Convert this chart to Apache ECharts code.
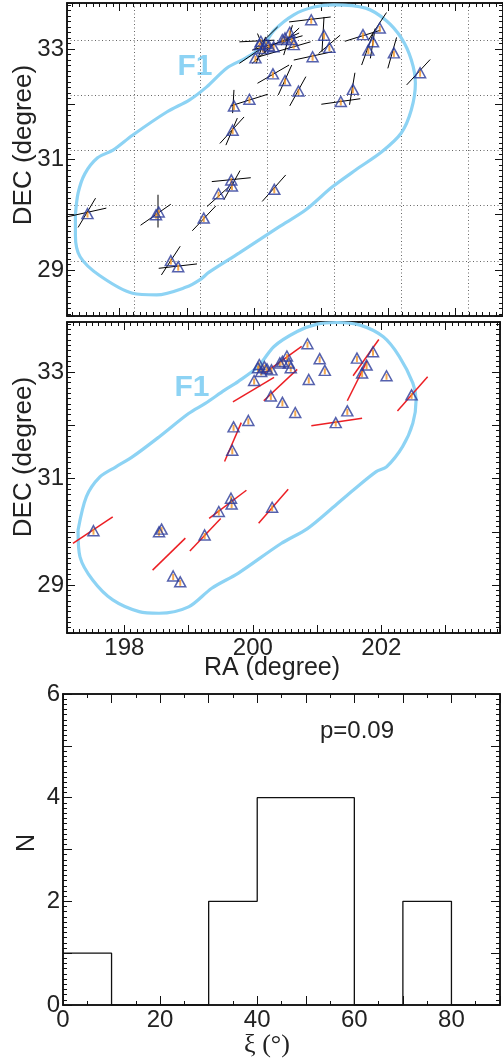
<!DOCTYPE html>
<html>
<head>
<meta charset="utf-8">
<title>F1 polarization map</title>
<script src="https://cdn.jsdelivr.net/npm/echarts@6.0.0/dist/echarts.min.js"></script>
<style>
  html, body { margin: 0; padding: 0; background: #fff; }
  #chart { width: 503px; height: 1060px; }
</style>
</head>
<body>
<div id="chart"></div>
<script>
// stars (RA, DEC)
const stars = [
  [197.52, 30.02], [198.54, 30.00], [198.58, 30.05], [198.76, 29.17], [198.87, 29.06],
  [199.25, 29.94], [199.47, 30.38], [199.66, 30.63], [199.67, 30.52], [200.30, 30.46],
  [199.68, 31.53], [199.70, 31.97], [199.93, 32.09], [200.02, 32.84], [200.08, 33.08],
  [200.10, 33.14], [200.18, 33.10], [200.13, 33.01], [200.29, 33.04], [200.42, 33.17],
  [200.46, 33.20], [200.53, 33.30], [200.56, 33.17], [200.59, 33.08], [200.22, 33.06],
  [200.85, 33.53], [201.04, 33.25], [201.12, 33.03], [200.87, 32.86], [200.28, 32.55],
  [200.46, 32.43], [200.66, 32.24], [201.29, 32.05], [201.47, 32.27], [201.62, 33.26],
  [201.87, 33.38], [201.77, 33.13], [201.70, 32.98], [202.08, 32.93], [202.47, 32.57]
]

// black vectors, top panel: [ra1, dec1, ra2, dec2]
const starVectors = [
  [197.21, 29.96, 197.80, 30.12], [197.38, 29.77, 197.64, 30.30],
  [198.31, 29.81, 198.76, 30.19], [198.62, 28.91, 198.90, 29.43],
  [198.58, 29.03, 199.15, 29.11], [199.08, 29.71, 199.43, 30.16],
  [199.30, 30.15, 199.63, 30.51], [199.37, 30.60, 199.95, 30.67],
  [199.55, 30.27, 199.79, 30.80], [200.12, 30.24, 200.47, 30.72],
  [199.70, 32.26, 199.68, 31.84], [199.65, 31.97, 200.20, 32.18],
  [199.49, 31.29, 199.85, 31.77], [199.58, 31.26, 199.75, 31.75],
  [200.52, 33.49, 201.14, 33.58], [201.04, 33.58, 201.01, 32.95],
  [200.96, 32.92, 201.28, 33.25], [200.59, 32.80, 201.16, 32.95],
  [200.05, 32.38, 200.52, 32.71], [200.36, 32.17, 200.56, 32.71],
  [200.53, 31.97, 200.77, 32.50], [201.42, 31.99, 201.50, 32.57],
  [201.00, 32.00, 201.58, 32.10], [201.35, 33.14, 201.88, 33.34],
  [201.70, 33.16, 201.97, 33.66], [201.73, 32.83, 201.80, 33.37],
  [201.60, 32.71, 201.78, 33.31], [201.99, 32.65, 202.12, 33.21],
  [202.27, 32.35, 202.62, 32.81], [199.78, 33.13, 200.30, 33.16],
  [199.97, 32.98, 200.72, 33.24], [200.07, 32.86, 200.84, 33.13],
  [200.00, 32.98, 200.35, 33.40], [200.44, 32.89, 200.57, 33.43],
  [200.03, 32.74, 200.17, 33.22], [199.97, 32.74, 200.30, 33.10],
  [200.12, 32.98, 200.67, 33.29], [200.40, 33.07, 200.67, 33.38],
  [200.05, 33.28, 200.17, 32.92], [199.78, 32.74, 200.07, 32.98]
]

// grey error bar
const greyBars = [
  [198.57, 29.77, 198.57, 30.36]
]

// red vectors, middle panel
const redVectors = [
  [197.20, 29.78, 197.82, 30.28], [198.44, 29.28, 198.95, 29.88],
  [199.02, 29.64, 199.50, 30.25], [199.32, 30.25, 199.90, 30.78],
  [199.56, 31.32, 199.82, 32.05], [199.69, 32.44, 200.33, 32.90],
  [200.17, 32.46, 200.69, 33.05], [200.18, 32.98, 200.76, 33.48],
  [200.91, 31.99, 201.70, 32.13], [201.56, 32.93, 201.96, 33.61],
  [201.47, 32.46, 201.78, 33.21], [202.25, 32.27, 202.72, 32.91],
  [200.09, 30.16, 200.55, 30.80]
]

// F1 outline as drawn in each panel
const outlineTop = [
  [197.34, 30.00], [197.38, 30.39], [197.48, 30.74], [197.67, 31.03], [197.90, 31.17],
  [198.19, 31.44], [198.70, 31.86], [199.04, 32.08], [199.29, 32.31], [199.60, 32.66],
  [199.88, 32.84], [200.12, 33.04], [200.30, 33.34], [200.59, 33.62], [200.89, 33.76],
  [201.19, 33.80], [201.66, 33.74], [201.96, 33.52], [202.19, 33.20], [202.34, 32.80],
  [202.40, 32.38], [202.34, 31.90], [202.19, 31.48], [201.90, 31.14], [201.51, 30.81],
  [201.16, 30.50], [200.77, 30.09], [200.37, 29.78], [199.78, 29.31], [199.33, 28.96],
  [199.19, 28.82], [198.99, 28.69], [198.55, 28.55], [198.19, 28.58], [197.70, 28.90],
  [197.41, 29.24], [197.34, 29.63], [197.34, 30.00]
]
const outlineMid = [
  [197.28, 30.03], [197.41, 30.66], [197.62, 31.03], [197.87, 31.22], [198.13, 31.41],
  [198.54, 31.78], [199.00, 32.22], [199.26, 32.41], [199.56, 32.66], [199.77, 32.82],
  [200.08, 33.10], [200.33, 33.48], [200.69, 33.76], [201.00, 33.90], [201.31, 33.93],
  [201.67, 33.88], [202.03, 33.66], [202.28, 33.29], [202.49, 32.79], [202.54, 32.47],
  [202.49, 32.04], [202.33, 31.60], [202.08, 31.22], [201.92, 31.13], [201.56, 30.78],
  [201.26, 30.47], [200.85, 30.06], [200.44, 29.78], [199.77, 29.22], [199.36, 28.94],
  [199.00, 28.59], [198.54, 28.47], [198.23, 28.50], [197.82, 28.72], [197.51, 29.09],
  [197.31, 29.53], [197.28, 30.03]
]

// histogram of xi
const xiEdges = [0, 10, 20, 30, 40, 50, 60, 70, 80, 90]
const xiCounts = [1, 0, 0, 2, 4, 4, 0, 2, 0]

// tick labels
const raTickLabels = [198, 200, 202]
const decTickLabels = [29, 31, 33]
const xiTickLabels = [0, 20, 40, 60, 80]
const nTickLabels = [0, 2, 4, 6]

const FONT = 'Liberation Sans'
const INK = '#111'
const CLOUD = '#8dd3f4'

const xAxes = []
const yAxes = []

function frameAxis(list, grid, pos, range, step, len, labels) {
  list.push({
    type: 'value',
    gridIndex: grid,
    position: pos,
    min: range[0],
    max: range[1],
    minInterval: step,
    maxInterval: step,
    splitNumber: Math.round((range[1] - range[0]) / step),
    axisLine: { show: true, onZero: false, lineStyle: { color: INK, width: 1.5 } },
    axisTick: { show: true, inside: true, length: len, lineStyle: { color: INK, width: 1 } },
    axisLabel: labels ? {
      show: true,
      color: '#222',
      fontSize: 24,
      fontFamily: FONT,
      margin: 3,
      showMinLabel: true,
      showMaxLabel: true,
      formatter: function (v) {
        return labels.indexOf(Math.round(v * 1000) / 1000) >= 0 ? String(v) : ''
      }
    } : { show: false },
    splitLine: { show: false }
  })
  return list.length - 1
}

// one boxed panel: ticks on all four sides, labels on bottom/left if given
function panel(grid, xr, yr, xStep, xMinor, yStep, yMinor, xLabels, yLabels, majorLen) {
  const ml = majorLen || 8
  const xi = frameAxis(xAxes, grid, 'bottom', xr, xStep, ml, xLabels)
  frameAxis(xAxes, grid, 'bottom', xr, xMinor, 4, null)
  frameAxis(xAxes, grid, 'top', xr, xStep, ml, null)
  frameAxis(xAxes, grid, 'top', xr, xMinor, 4, null)
  const yi = frameAxis(yAxes, grid, 'left', yr, yStep, ml, yLabels)
  frameAxis(yAxes, grid, 'left', yr, yMinor, 4, null)
  frameAxis(yAxes, grid, 'right', yr, yStep, ml, null)
  frameAxis(yAxes, grid, 'right', yr, yMinor, 4, null)
  return { x: xi, y: yi }
}

const topP = panel(0, [197.215, 203.704], [28.167, 33.833], 1, 0.1, 1, 0.1, null, decTickLabels)
const midP = panel(1, [197.108, 203.846], [28.099, 33.939], 1, 0.1, 1, 0.1, raTickLabels, decTickLabels)
const histP = panel(2, [0, 90], [0, 6], 10, 5, 1, 0.1, xiTickLabels, nTickLabels, 9)

// dotted coordinate grid of the top panel (its own spacing)
const dotted = { show: true, lineStyle: { color: '#666', width: 1, type: [1, 2.5] } }
xAxes.push({
  type: 'value', gridIndex: 0, min: 0, max: 6.527, interval: 1,
  axisLine: { show: false }, axisTick: { show: false }, axisLabel: { show: false },
  splitLine: dotted
})
yAxes.push({
  type: 'value', gridIndex: 0, min: 0, max: 5.67, interval: 1,
  axisLine: { show: false }, axisTick: { show: false }, axisLabel: { show: false },
  splitLine: dotted
})

function segs(list) {
  return list.map(function (s) {
    return { coords: [[s[0], s[1]], [s[2], s[3]]] }
  })
}

function starSeries(p) {
  return [{
    type: 'scatter',
    xAxisIndex: p.x, yAxisIndex: p.y,
    symbol: 'rect',
    symbolSize: [2, 6],
    symbolOffset: [0, 1],
    itemStyle: { color: '#f29422' },
    data: stars,
    z: 5
  }, {
    type: 'scatter',
    xAxisIndex: p.x, yAxisIndex: p.y,
    symbol: 'triangle',
    symbolSize: [11, 10],
    itemStyle: { color: 'rgba(255,255,255,0)', borderColor: '#2b3a98', borderWidth: 1.5 },
    data: stars,
    z: 6
  }]
}

function outline(p, pts) {
  return {
    type: 'line',
    xAxisIndex: p.x, yAxisIndex: p.y,
    data: pts,
    smooth: 0.3,
    showSymbol: false,
    lineStyle: { color: CLOUD, width: 3.2 },
    z: 3
  }
}

function vecSeries(p, list, color, width) {
  return {
    type: 'lines',
    coordinateSystem: 'cartesian2d',
    xAxisIndex: p.x, yAxisIndex: p.y,
    data: segs(list),
    lineStyle: { color: color, width: width, opacity: 1, curveness: 0 },
    z: 4
  }
}

const histPoints = xiEdges.map(function (e, i) {
  return [e, i < xiCounts.length ? xiCounts[i] : 0]
})

function label(text, x, y, font, rot, color) {
  return {
    type: 'text',
    x: x, y: y,
    rotation: rot || 0,
    silent: true,
    style: {
      text: text,
      font: font,
      fill: color || '#222',
      textAlign: 'center', textVerticalAlign: 'middle',
      align: 'center', verticalAlign: 'middle'
    }
  }
}

const chart = echarts.init(document.getElementById('chart'), null, { renderer: 'canvas' })
chart.setOption({
  animation: false,
  backgroundColor: '#fff',
  grid: [
    { left: 67, top: 3, width: 438, height: 313 },
    { left: 67, top: 322, width: 438, height: 311 },
    { left: 63, top: 694, width: 441, height: 311 }
  ],
  xAxis: xAxes,
  yAxis: yAxes,
  graphic: [
    label('F1', 195, 67, 'bold 30px "Liberation Sans"', 0, CLOUD),
    label('F1', 192, 388, 'bold 30px "Liberation Sans"', 0, CLOUD),
    label('DEC (degree)', 24, 145, '26px "Liberation Sans"', Math.PI / 2),
    label('DEC (degree)', 24, 457, '26px "Liberation Sans"', Math.PI / 2),
    label('RA (degree)', 272, 668, '25px "Liberation Sans"'),
    label('N', 27, 843, '25px "Liberation Sans"', Math.PI / 2),
    label('ξ (°)', 267, 1045, '26px "Liberation Serif"'),
    label('p=0.09', 357, 731, '24px "Liberation Sans"')
  ],
  series: [
    outline(topP, outlineTop),
    vecSeries(topP, starVectors, '#000', 1),
    vecSeries(topP, greyBars, '#808080', 2),
    ...starSeries(topP),
    outline(midP, outlineMid),
    vecSeries(midP, redVectors, '#ec1f24', 1.5),
    ...starSeries(midP),
    {
      type: 'line',
      xAxisIndex: histP.x, yAxisIndex: histP.y,
      step: 'end',
      data: histPoints,
      showSymbol: false,
      lineStyle: { color: '#111', width: 1.3 },
      z: 4
    }
  ]
})
</script>
</body>
</html>
